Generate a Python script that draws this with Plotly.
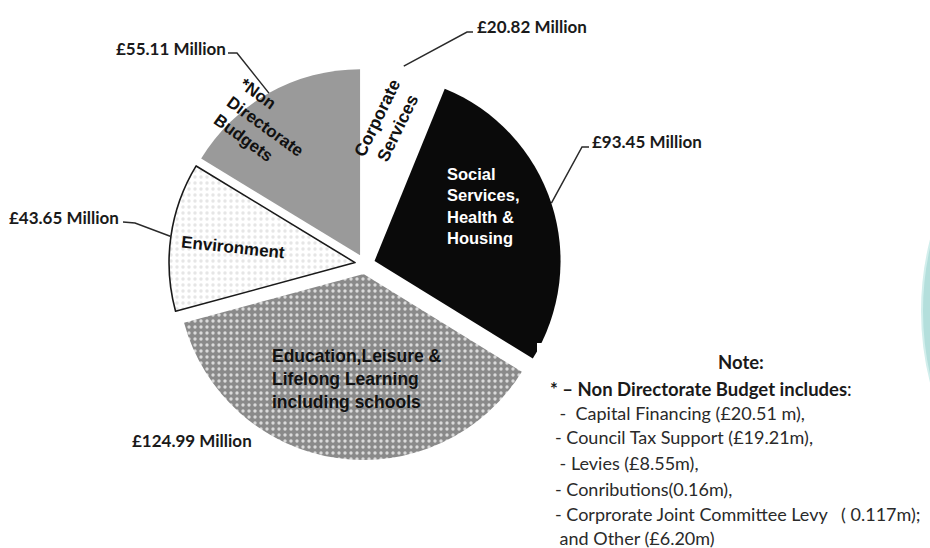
import math
import plotly.graph_objects as go

# ---------------- data ----------------
categories = ["Corporate Services", "Social Services, Health & Housing",
              "Education, Leisure & Lifelong Learning including schools",
              "Environment", "*Non Directorate Budgets"]
values = [20.82, 93.45, 124.99, 43.65, 55.11]
value_labels = ["£20.82 Million", "£93.45 Million", "£124.99 Million",
                "£43.65 Million", "£55.11 Million"]
inside_texts = ["Corporate<br>Services", "Social<br>Services,<br>Health &<br>Housing",
                "Education,Leisure &<br>Lifelong Learning<br>including schools",
                "Environment", "*Non<br>Directorate<br>Budgets"]
note_title = "Note:"
note_head = "<b>* – Non Directorate Budget includes</b>:"
note_lines = [" -  Capital Financing (£20.51 m),",
              "- Council Tax Support (£19.21m),",
              " - Levies (£8.55m),",
              "- Conributions(0.16m),",
              "- Corprorate Joint Committee Levy   ( 0.117m);",
              " and Other (£6.20m)"]

# ---------------- layout / style ----------------
W, H = 930, 548
CX, CY, R, PULL = 365, 264, 186, 0.054
fill_colors = ["#ffffff", "#0a0a0a", "#8a8a8a", "#ffffff", "#9a9a9a"]
dot_colors = ["#ffffff", "#0a0a0a", "#dadada", "#e6e6e6", "#9a9a9a"]
shapes_pat = ["", "", ".", ".", ""]
line_w = [0, 0, 0, 1.6, 0]
FONT_IN = "Liberation Sans, Arial, sans-serif"
FONT_OUT = "Lato, Open Sans, sans-serif"


def P(x, y):
    return x / W, 1 - y / H


half = R * (1 + PULL)
dx0, dy1 = P(CX - half, CY - half)
dx1, dy0 = P(CX + half, CY + half)

fig = go.Figure(go.Pie(
    values=values, labels=categories, sort=False, direction="clockwise",
    rotation=0, pull=[PULL] * len(values), textinfo="none",
    hoverinfo="label+value", showlegend=False,
    domain=dict(x=[dx0, dx1], y=[dy0, dy1]),
    marker=dict(colors=fill_colors,
                line=dict(color="#1a1a1a", width=line_w),
                pattern=dict(shape=shapes_pat, fgcolor=dot_colors,
                             bgcolor=fill_colors, size=6, solidity=0.25)),
))

# slice mid angles (clockwise from 12 o'clock) derived from the data
total = sum(values)
mids = []
acc = 0.0
for v in values:
    a = v / total * 360
    mids.append(acc + a / 2)
    acc += a


def arc_point(i, k=1.0):
    m = math.radians(mids[i])
    d = R * PULL + R * k
    return CX + d * math.sin(m), CY - d * math.cos(m)


annotations = []
shapes = []

# inside labels: (index, center px, angle, align, color, size)
inside_cfg = [
    (0, (388, 123), -64, "center", "#111111", 17.5),
    (1, (483, 206), 0, "left", "#ffffff", 16.5),
    (2, (357, 379), 0, "left", "#111111", 17.5),
    (3, (233, 247), 6, "center", "#111111", 17),
    (4, (265, 127), 36, "left", "#111111", 17),
]
for i, (x, y), ang, al, col, sz in inside_cfg:
    px, py = P(x, y)
    annotations.append(dict(x=px, y=py, xref="paper", yref="paper",
                            text="<b>" + inside_texts[i] + "</b>",
                            showarrow=False, textangle=ang, align=al,
                            xanchor="center", yanchor="middle",
                            font=dict(family=FONT_IN, size=sz, color=col)))

# outside value labels with leader lines: (index, text pos, xanchor, elbow, end, k)
out_cfg = [
    (0, (475, 27), "left", (467, 32), (473, 32), 1.03),
    (1, (590, 142), "left", (582, 147), (589, 147), 1.0),
    (2, (130, 440), "left", None, None, 1.0),
    (3, (121, 217), "right", (135, 223), (123, 222), 1.0),
    (4, (228, 48), "right", (237, 53), (228, 53), 1.0),
]
for i, (tx, ty), xa, elbow, end, k in out_cfg:
    px, py = P(tx, ty)
    annotations.append(dict(x=px, y=py, xref="paper", yref="paper",
                            text="<b>" + value_labels[i] + "</b>",
                            showarrow=False, xanchor=xa, yanchor="middle",
                            font=dict(family=FONT_OUT, size=17, color="#1a1a1a")))
    if elbow is not None:
        ax, ay = arc_point(i, k)
        pts = [P(ax, ay), P(*elbow), P(*end)]
        path = "M {} {} L {} {} L {} {}".format(pts[0][0], pts[0][1], pts[1][0],
                                                pts[1][1], pts[2][0], pts[2][1])
        shapes.append(dict(type="path", path=path, xref="paper", yref="paper",
                           line=dict(color="#2a2a2a", width=1.5)))

# note block
px, py = P(741, 362)
annotations.append(dict(x=px, y=py, xref="paper", yref="paper",
                        text="<b>" + note_title + "</b>", showarrow=False,
                        xanchor="center", yanchor="middle",
                        font=dict(family=FONT_OUT, size=18.5, color="#1a1a1a")))
px, py = P(548, 389)
annotations.append(dict(x=px, y=py, xref="paper", yref="paper",
                        text=note_head, showarrow=False,
                        xanchor="left", yanchor="middle",
                        font=dict(family=FONT_OUT, size=18.5, color="#1a1a1a")))
note_y = [413, 437, 463, 489, 514, 538]
for t, yy in zip(note_lines, note_y):
    px, py = P(553, yy)
    annotations.append(dict(x=px, y=py, xref="paper", yref="paper",
                            text=t.replace(" ", "&nbsp;"), showarrow=False,
                            xanchor="left", yanchor="middle",
                            font=dict(family=FONT_OUT, size=18, color="#2a2a2a")))

# decorative teal disc at right edge and small white notch
shapes.append(dict(type="circle", xref="paper", yref="paper",
                   x0=922 / W, x1=(922 + 578) / W,
                   y0=1 - (311 + 289) / H, y1=1 - (311 - 289) / H,
                   fillcolor="#b4dfdc", line=dict(color="#d2eeec", width=2)))
x0, y1 = P(537, 343)
x1, y0 = P(560, 372)
shapes.append(dict(type="rect", xref="paper", yref="paper", x0=x0, x1=x1,
                   y0=y0, y1=y1, fillcolor="#ffffff", line=dict(width=0),
                   layer="above"))

fig.update_layout(width=W, height=H, autosize=False,
                  margin=dict(l=0, r=0, t=0, b=0),
                  paper_bgcolor="#ffffff", plot_bgcolor="#ffffff",
                  annotations=annotations, shapes=shapes)

fig.write_html("out.html", config={"displayModeBar": False},
               post_script="document.body.style.margin='0px';document.body.style.overflow='hidden';")
